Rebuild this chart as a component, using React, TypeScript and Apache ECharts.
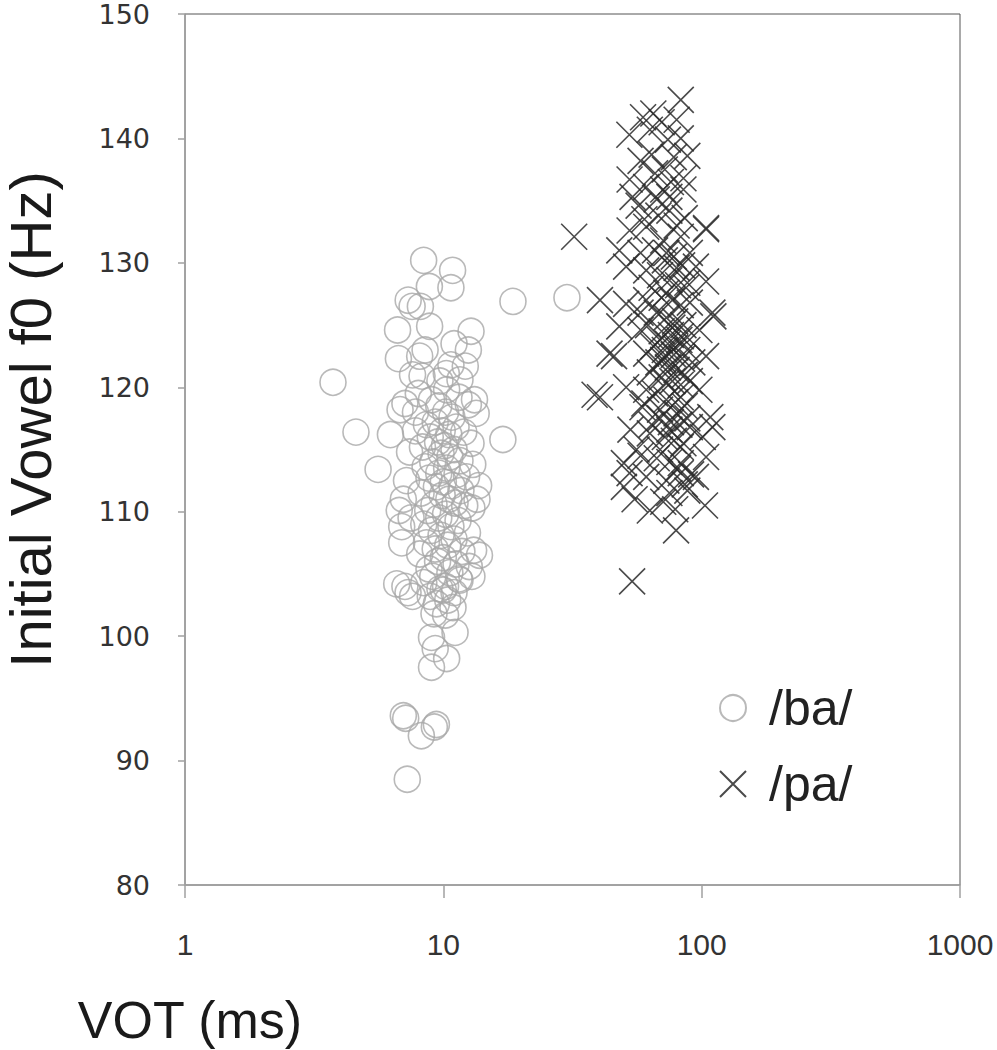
import React, { useEffect, useRef } from "react";
import * as echarts from "echarts";

// /ba/ tokens: [VOT (ms), initial vowel f0 (Hz)]
const baPoints: number[][] = [
  [3.74, 120.4], [4.59, 116.4], [5.59, 113.4], [18.6, 126.9], [30.1, 127.2], [17.0, 115.8],
  [7.0, 93.6], [7.15, 93.4], [9.23, 92.7], [9.4, 92.9], [8.22, 92.0], [7.25, 88.5],
  [8.39, 130.2], [10.86, 129.4], [10.7, 128.0], [8.83, 128.1], [7.31, 127.0], [8.15, 126.5],
  [7.57, 126.5], [8.85, 124.9], [6.65, 124.6], [12.8, 124.5], [12.5, 123.0], [6.7, 122.3],
  [8.1, 122.5], [8.27, 120.9], [10.27, 121.1], [12.16, 121.7], [11.6, 120.6], [7.1, 118.7],
  [6.24, 116.2], [13.7, 112.1], [12.9, 110.3], [6.75, 110.1], [6.9, 108.8], [13.1, 106.9],
  [13.4, 117.9], [6.8, 118.2],
  [6.6, 104.2], [7.3, 103.5], [9.2, 101.8], [10.2, 101.7], [11.1, 100.3], [9.0, 99.9],
  [9.3, 99.0], [10.3, 98.2], [9.0, 97.5], [10.0, 103.7], [11.6, 104.5],
  [9.0, 119.0], [9.6, 118.5], [10.2, 118.0], [10.8, 117.6], [9.3, 117.2], [8.6, 117.0],
  [11.2, 116.8], [9.9, 116.5], [10.5, 116.2], [8.9, 116.0], [12.0, 116.4], [9.5, 115.6],
  [10.1, 115.3], [11.0, 115.0], [8.3, 115.2], [9.8, 114.7], [10.6, 114.4], [11.6, 114.1],
  [9.1, 114.0], [8.5, 113.6], [10.3, 113.5], [9.6, 113.1], [11.3, 113.0], [12.3, 112.8],
  [8.8, 112.7], [10.0, 112.4], [10.8, 112.1], [9.4, 112.0], [11.7, 111.7], [8.2, 111.5],
  [9.9, 111.3], [10.5, 111.0], [11.1, 110.7], [9.2, 110.6], [12.1, 110.5], [8.7, 110.1],
  [10.2, 109.8], [9.6, 109.5], [11.4, 109.3], [8.4, 109.0], [10.7, 108.8], [9.0, 108.5],
  [12.4, 108.3], [9.8, 108.1], [11.0, 107.8], [8.6, 107.5], [10.4, 107.3], [9.3, 107.0],
  [11.8, 106.8], [8.1, 106.6], [10.0, 106.3], [9.5, 106.0], [11.2, 105.8], [12.6, 105.6],
  [8.8, 105.4], [10.6, 105.1], [9.1, 104.8], [11.5, 104.6], [8.4, 104.3], [10.2, 104.0],
  [9.7, 103.8], [11.0, 103.5], [8.9, 103.2], [10.4, 102.9], [9.4, 102.6], [10.9, 102.3],
  [8.0, 119.5], [10.3, 119.8], [11.5, 119.2], [7.8, 118.0], [12.5, 118.6], [9.7, 120.5],
  [10.7, 121.8], [8.5, 123.0], [11.0, 123.5], [7.6, 121.0],
  [7.0, 111.0], [7.2, 112.5], [7.5, 109.5], [6.9, 107.5], [7.4, 114.8], [7.8, 116.5],
  [7.1, 104.0], [7.6, 103.2],
  [13.5, 111.0], [13.0, 113.8], [12.8, 115.5], [13.8, 106.5], [12.9, 104.8], [13.2, 119.0],
];

// /pa/ tokens: [VOT (ms), initial vowel f0 (Hz)]
const paPoints: number[][] = [
  [32.1, 132.1], [40.4, 127.0], [38.5, 119.4], [40.4, 119.2], [53.8, 104.4], [45.8, 122.5],
  [79.6, 108.5], [103, 110.5], [110, 116.8], [110, 126.0], [104, 128.5], [104, 132.7],
  [83, 143.1], [52.5, 140.3], [59.3, 141.7], [65, 142.0], [70, 141.3], [63, 140.7],
  [80, 141.5], [83, 140.0], [74, 139.9], [64, 138.7], [85, 136.8], [52.6, 136.7],
  [61, 136.1], [71, 135.9], [54, 135.3], [67, 135.1], [75, 135.3], [85, 135.9],
  [104, 132.8], [52.6, 132.6], [61, 132.9], [71, 131.8], [83, 132.1], [48, 131.0],
  [58, 130.8], [73, 130.8], [90, 130.8], [51, 129.7], [61, 129.4], [80, 129.6], [95, 129.7],
  [51, 126.7], [61, 127.0], [73, 127.6], [88, 128.4], [111, 125.7], [48, 124.9], [58, 124.6],
  [69, 123.8], [83, 124.1], [98, 124.6], [44, 122.7], [61, 122.7], [73, 122.5], [88, 123.0],
  [104, 122.5], [51, 120.0], [61, 119.8], [73, 120.3], [83, 119.2], [98, 119.8],
  [59, 118.4], [69, 118.2], [80, 117.9], [53, 116.6], [63, 116.3], [75, 116.6], [90, 116.8],
  [108, 117.6], [56, 115.0], [69, 115.0], [83, 115.2], [101, 116.0], [50, 113.9], [83, 113.9],
  [104, 114.4], [50, 112.0], [52.6, 113.1], [61, 112.8], [73, 112.5], [83, 113.1], [95, 112.8],
  [75, 111.5], [88, 111.7], [63, 110.1],
  [66, 131.0], [72, 130.2], [78, 130.5], [84, 129.8], [69, 129.0], [75, 128.6], [81, 128.2],
  [87, 128.0], [64, 128.0], [70, 127.2], [77, 127.0], [83, 126.6], [90, 126.8], [58, 126.0],
  [67, 126.0], [73, 125.6], [79, 125.3], [85, 125.0], [62, 125.0], [70, 124.5], [76, 124.2],
  [82, 123.8], [88, 124.0], [65, 123.3], [72, 123.0], [78, 122.6], [84, 122.3], [92, 122.0],
  [68, 122.0], [74, 121.6], [80, 121.4], [86, 121.0], [63, 121.2], [70, 120.8], [77, 120.5],
  [83, 120.2], [90, 120.5], [66, 119.5], [73, 119.0], [79, 118.8], [86, 118.5], [60, 118.7],
  [69, 117.5], [76, 117.2], [82, 117.0], [88, 117.5], [64, 117.0], [72, 116.0], [78, 115.7],
  [85, 115.5], [58, 114.5], [67, 114.3], [75, 114.0], [81, 113.5], [91, 113.0], [55, 111.0],
  [71, 110.8], [79, 110.2], [86, 112.2], [60, 133.5], [68, 133.8], [75, 134.2], [80, 133.0],
  [57, 134.6], [86, 133.6], [72, 137.5], [78, 138.5], [66, 137.2], [58, 138.2], [88, 138.6],
  [76, 136.5], [74, 123.5], [77, 124.8], [71, 122.2], [79, 123.2],
];

const seriesNames = ["/ba/", "/pa/"];
const xTickValues = [1, 10, 100, 1000];
const yTicks = { min: 80, max: 150, interval: 10 };
const xAxisTitle = "VOT (ms)";
const yAxisTitle = "Initial Vowel f0 (Hz)";

const crossPath = "path://M0,0 L10,10 M10,0 L0,10";

export default function App() {
  const ref = useRef<HTMLDivElement>(null);
  useEffect(() => {
    document.body.style.margin = "0";
    if (!ref.current) return;
    const chart = echarts.init(ref.current, null, { renderer: "svg" });
    const labelFont = "'Liberation Sans', Arial, sans-serif";
    const legendText = {
      fontSize: 50,
      color: "#222222",
      fontFamily: labelFont,
      lineHeight: 52,
      padding: [0, 0, 0, 18],
    };
    chart.setOption({
      animation: false,
      backgroundColor: "#ffffff",
      grid: {
        left: 185,
        right: 37,
        top: 14,
        bottom: 165,
        containLabel: false,
        outerBoundsMode: "none",
        show: true,
        borderColor: "#555555",
        borderWidth: 1,
        backgroundColor: "transparent",
      },
      xAxis: {
        type: "log",
        logBase: 10,
        min: xTickValues[0],
        max: xTickValues[xTickValues.length - 1],
        axisLine: { show: true, lineStyle: { color: "#a0a0a0", width: 1.5 } },
        axisTick: { show: true, inside: false, length: 13, lineStyle: { color: "#a0a0a0", width: 1.5 } },
        minorTick: { show: false },
        splitLine: { show: false },
        axisLabel: {
          margin: 44,
          fontSize: 30,
          color: "#333333",
          fontFamily: labelFont,
          formatter: (v: number) => String(Math.round(v)),
        },
      },
      yAxis: {
        type: "value",
        min: yTicks.min,
        max: yTicks.max,
        interval: yTicks.interval,
        name: yAxisTitle,
        nameLocation: "middle",
        nameRotate: 90,
        nameGap: 132,
        nameTextStyle: {
          fontSize: 58,
          lineHeight: 46,
          color: "#1a1a1a",
          fontFamily: labelFont,
          padding: [0, 0, 0, 60],
        },
        axisLine: { show: true, lineStyle: { color: "#a0a0a0", width: 1.5 } },
        axisTick: { show: true, inside: false, length: 7, lineStyle: { color: "#a0a0a0", width: 1.5 } },
        splitLine: { show: false },
        axisLabel: {
          margin: 35,
          fontSize: 27,
          lineHeight: 26,
          color: "#333333",
          fontFamily: "'DejaVu Sans', sans-serif",
        },
      },
      legend: [
        { data: [seriesNames[0]], left: 714, top: 677, itemWidth: 26, itemHeight: 26, textStyle: legendText },
        { data: [seriesNames[1]], left: 714, top: 753, itemWidth: 26, itemHeight: 26, textStyle: legendText },
      ],
      graphic: [
        {
          type: "text",
          x: 190,
          y: 1020,
          style: {
            text: xAxisTitle,
            fontSize: 52,
            fontFamily: labelFont,
            fill: "#1a1a1a",
            align: "center",
            verticalAlign: "middle",
          },
        },
      ],
      series: [
        {
          name: seriesNames[0],
          type: "scatter",
          data: baPoints,
          symbol: "circle",
          symbolSize: 26,
          itemStyle: { color: "rgba(0,0,0,0)", borderColor: "#a8a8a8", borderWidth: 1.6 },
          z: 2,
        },
        {
          name: seriesNames[1],
          type: "scatter",
          data: paPoints,
          symbol: crossPath,
          symbolSize: 26,
          itemStyle: { color: "rgba(0,0,0,0)", borderColor: "#2a2a2a", borderWidth: 1.6, opacity: 0.85 },
          z: 3,
        },
      ],
    });
    return () => chart.dispose();
  }, []);
  return <div ref={ref} style={{ width: 997, height: 1050 }} />;
}
